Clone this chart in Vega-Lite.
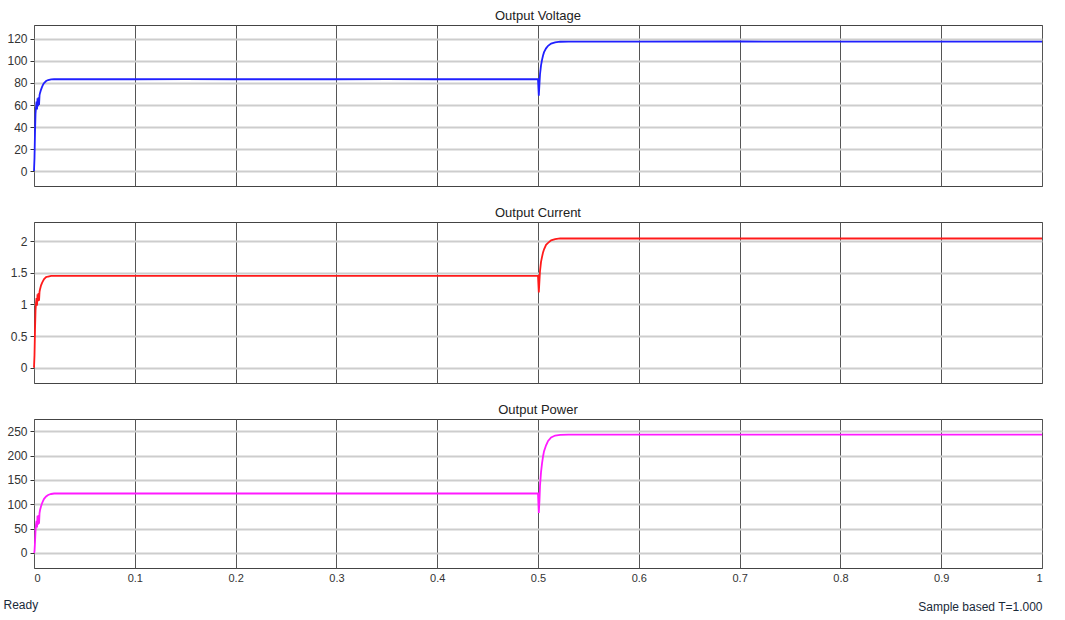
{
  "$schema": "https://vega.github.io/schema/vega-lite/v6.json",
  "background": "white",
  "padding": {"left": 3, "top": 9, "right": 20, "bottom": 10},
  "title": {"text": "Ready", "orient": "bottom", "anchor": "start", "font": "Liberation Sans", "fontSize": 12, "fontWeight": "normal", "color": "#1a2a3a", "offset": -13},
  "datasets": {
    "sim": [
      {"t": 0, "v": 0, "i": 0, "p": 0},
      {"t": 0.0005, "v": 12, "i": 0.2, "p": 3},
      {"t": 0.001, "v": 35, "i": 0.6, "p": 22},
      {"t": 0.0015, "v": 52, "i": 0.9, "p": 45},
      {"t": 0.002, "v": 58, "i": 1.02, "p": 58},
      {"t": 0.0025, "v": 63, "i": 1.1, "p": 66},
      {"t": 0.003, "v": 56, "i": 0.98, "p": 52},
      {"t": 0.0035, "v": 66, "i": 1.16, "p": 76},
      {"t": 0.004, "v": 59, "i": 1.05, "p": 58},
      {"t": 0.0045, "v": 67, "i": 1.18, "p": 78},
      {"t": 0.005, "v": 60, "i": 1.06, "p": 60},
      {"t": 0.0055, "v": 69, "i": 1.2, "p": 82},
      {"t": 0.006, "v": 71, "i": 1.24, "p": 88},
      {"t": 0.007, "v": 74, "i": 1.3, "p": 96},
      {"t": 0.008, "v": 76.5, "i": 1.34, "p": 102},
      {"t": 0.009, "v": 78.5, "i": 1.37, "p": 107},
      {"t": 0.01, "v": 80, "i": 1.4, "p": 111},
      {"t": 0.012, "v": 81.8, "i": 1.43, "p": 116},
      {"t": 0.014, "v": 82.7, "i": 1.44, "p": 119},
      {"t": 0.017, "v": 83.2, "i": 1.45, "p": 121},
      {"t": 0.02, "v": 83.4, "i": 1.45, "p": 122},
      {"t": 0.05, "v": 83.4, "i": 1.45, "p": 122},
      {"t": 0.1, "v": 83.4, "i": 1.45, "p": 122},
      {"t": 0.15, "v": 83.5, "i": 1.45, "p": 122},
      {"t": 0.2, "v": 83.4, "i": 1.45, "p": 122},
      {"t": 0.25, "v": 83.4, "i": 1.45, "p": 122},
      {"t": 0.3, "v": 83.4, "i": 1.45, "p": 122},
      {"t": 0.35, "v": 83.5, "i": 1.45, "p": 122},
      {"t": 0.4, "v": 83.4, "i": 1.45, "p": 122},
      {"t": 0.45, "v": 83.4, "i": 1.45, "p": 122},
      {"t": 0.5, "v": 83.4, "i": 1.45, "p": 122},
      {"t": 0.5008, "v": 68.5, "i": 1.19, "p": 82},
      {"t": 0.5015, "v": 80, "i": 1.39, "p": 110},
      {"t": 0.502, "v": 88, "i": 1.53, "p": 138},
      {"t": 0.503, "v": 96, "i": 1.67, "p": 166},
      {"t": 0.504, "v": 101, "i": 1.75, "p": 184},
      {"t": 0.505, "v": 105, "i": 1.82, "p": 198},
      {"t": 0.506, "v": 108, "i": 1.87, "p": 209},
      {"t": 0.508, "v": 111.5, "i": 1.94, "p": 221},
      {"t": 0.51, "v": 113.8, "i": 1.97, "p": 230},
      {"t": 0.513, "v": 115.8, "i": 2.01, "p": 237},
      {"t": 0.517, "v": 117, "i": 2.03, "p": 241},
      {"t": 0.522, "v": 117.5, "i": 2.04, "p": 242.5},
      {"t": 0.53, "v": 117.6, "i": 2.04, "p": 243},
      {"t": 0.6, "v": 117.6, "i": 2.04, "p": 243},
      {"t": 0.7, "v": 117.7, "i": 2.04, "p": 243},
      {"t": 0.8, "v": 117.6, "i": 2.04, "p": 243},
      {"t": 0.9, "v": 117.6, "i": 2.04, "p": 243},
      {"t": 1.0, "v": 117.6, "i": 2.04, "p": 243}
    ]
  },
  "resolve": {"scale": {"x": "independent", "y": "independent"}},
  "spacing": 19,
  "vconcat": [
    {
      "width": 1008, "height": 161,
      "title": {"text": "Output Voltage"},
      "data": {"name": "sim"},
      "mark": {"type": "line", "color": "#2020ff", "strokeWidth": 1.8},
      "encoding": {
        "x": {"field": "t", "type": "quantitative", "scale": {"domain": [0, 1], "nice": false, "zero": false},
              "axis": {"labels": false, "ticks": false, "title": null, "values": [0,0.1,0.2,0.3,0.4,0.5,0.6,0.7,0.8,0.9,1]}},
        "y": {"field": "v", "type": "quantitative", "scale": {"domain": [-13.6, 132.7], "nice": false, "zero": false},
              "axis": {"title": null, "values": [0,20,40,60,80,100,120], "format": "~r"}}
      }
    },
    {
      "width": 1008, "height": 161,
      "title": {"text": "Output Current"},
      "data": {"name": "sim"},
      "mark": {"type": "line", "color": "#ff1a1a", "strokeWidth": 1.8},
      "encoding": {
        "x": {"field": "t", "type": "quantitative", "scale": {"domain": [0, 1], "nice": false, "zero": false},
              "axis": {"labels": false, "ticks": false, "title": null, "values": [0,0.1,0.2,0.3,0.4,0.5,0.6,0.7,0.8,0.9,1]}},
        "y": {"field": "i", "type": "quantitative", "scale": {"domain": [-0.24, 2.3], "nice": false, "zero": false},
              "axis": {"title": null, "values": [0,0.5,1,1.5,2], "format": "~r"}}
      }
    },
    {
      "width": 1008, "height": 149,
      "title": {"text": "Output Power"},
      "data": {"name": "sim"},
      "mark": {"type": "line", "color": "#ff1aff", "strokeWidth": 1.8},
      "encoding": {
        "x": {"field": "t", "type": "quantitative", "scale": {"domain": [0, 1], "nice": false, "zero": false},
              "axis": {"ticks": false, "labelPadding": 4, "format": "~r", "values": [0,0.1,0.2,0.3,0.4,0.5,0.6,0.7,0.8,0.9,1],
                       "title": "Sample based    T=1.000", "titleAnchor": "end", "titlePadding": 18, "titleFontWeight": "normal", "titleFont": "Liberation Sans", "titleFontSize": 12, "titleColor": "#1a2a3a"}},
        "y": {"field": "p", "type": "quantitative", "scale": {"domain": [-31, 275], "nice": false, "zero": false},
              "axis": {"title": null, "values": [0,50,100,150,200,250], "format": "~r"}}
      }
    }
  ],
  "config": {
    "view": {"stroke": "#444", "strokeWidth": 1},
    "axis": {"labelFont": "Liberation Sans", "labelFontSize": 11, "labelColor": "#333", "domain": false},
    "axisX": {"grid": true, "gridColor": "#555", "gridWidth": 1, "gridOpacity": 1},
    "axisY": {"grid": true, "gridColor": "#cdcdcd", "gridWidth": 2, "gridOpacity": 1, "tickColor": "#333", "tickSize": 4, "labelPadding": 3, "labelFontSize": 12, "minExtent": 30, "maxExtent": 30},
    "title": {"font": "Liberation Sans", "fontSize": 13, "fontWeight": "normal", "color": "#222", "offset": 2}
  }
}
